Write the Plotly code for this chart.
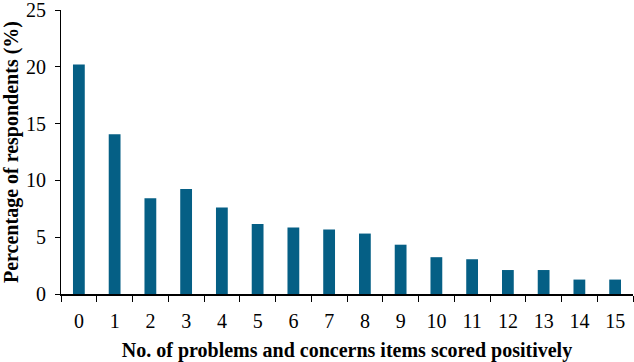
import plotly.graph_objects as go

categories = [str(i) for i in range(16)]
percentages = [20.2, 14.06, 8.42, 9.24, 7.61, 6.16, 5.85, 5.67, 5.32, 4.34, 3.24, 3.06, 2.11, 2.11, 1.27, 1.27]
y_ticks = [0, 5, 10, 15, 20, 25]

x_title = "No. of problems and concerns items scored positively"
y_title = "Percentage of respondents (%)"

FONT = "Liberation Serif, Times New Roman, serif"

fig = go.Figure(
    go.Bar(
        x=categories,
        y=percentages,
        marker=dict(color="#055f85", line=dict(width=0)),
        width=0.33,
    )
)

fig.update_layout(
    width=634,
    height=362,
    margin=dict(l=61, r=1, t=10, b=68),
    paper_bgcolor="white",
    plot_bgcolor="white",
    showlegend=False,
    font=dict(family=FONT, color="black", size=20),
)

fig.update_xaxes(
    type="category",
    range=[-0.5, 15.5],
    showline=True,
    linecolor="black",
    linewidth=1.5,
    ticks="outside",
    tickson="boundaries",
    ticklen=6,
    tickwidth=1.2,
    tickcolor="black",
    showgrid=False,
    zeroline=False,
    tickfont=dict(family=FONT, size=20, color="black"),
    ticklabelstandoff=8,
    ticklabeloverflow="allow",
    title=dict(text="<b>" + x_title + "</b>", font=dict(family=FONT, size=20, color="black"), standoff=14),
    automargin=False,
)

fig.update_yaxes(
    range=[0, 25],
    tickvals=y_ticks,
    showline=True,
    linecolor="black",
    linewidth=1.2,
    ticks="outside",
    ticklen=5,
    tickwidth=1.2,
    tickcolor="black",
    showgrid=False,
    zeroline=False,
    tickfont=dict(family=FONT, size=20, color="black"),
    ticklabelstandoff=5,
    ticklabeloverflow="allow",
    title=dict(text="<b>" + y_title + "</b>", font=dict(family=FONT, size=20, color="black"), standoff=6),
    automargin=False,
)

fig.write_html(
    "out.html",
    config={"displayModeBar": False},
    post_script="document.body.style.margin='0';document.body.style.padding='0';",
)
